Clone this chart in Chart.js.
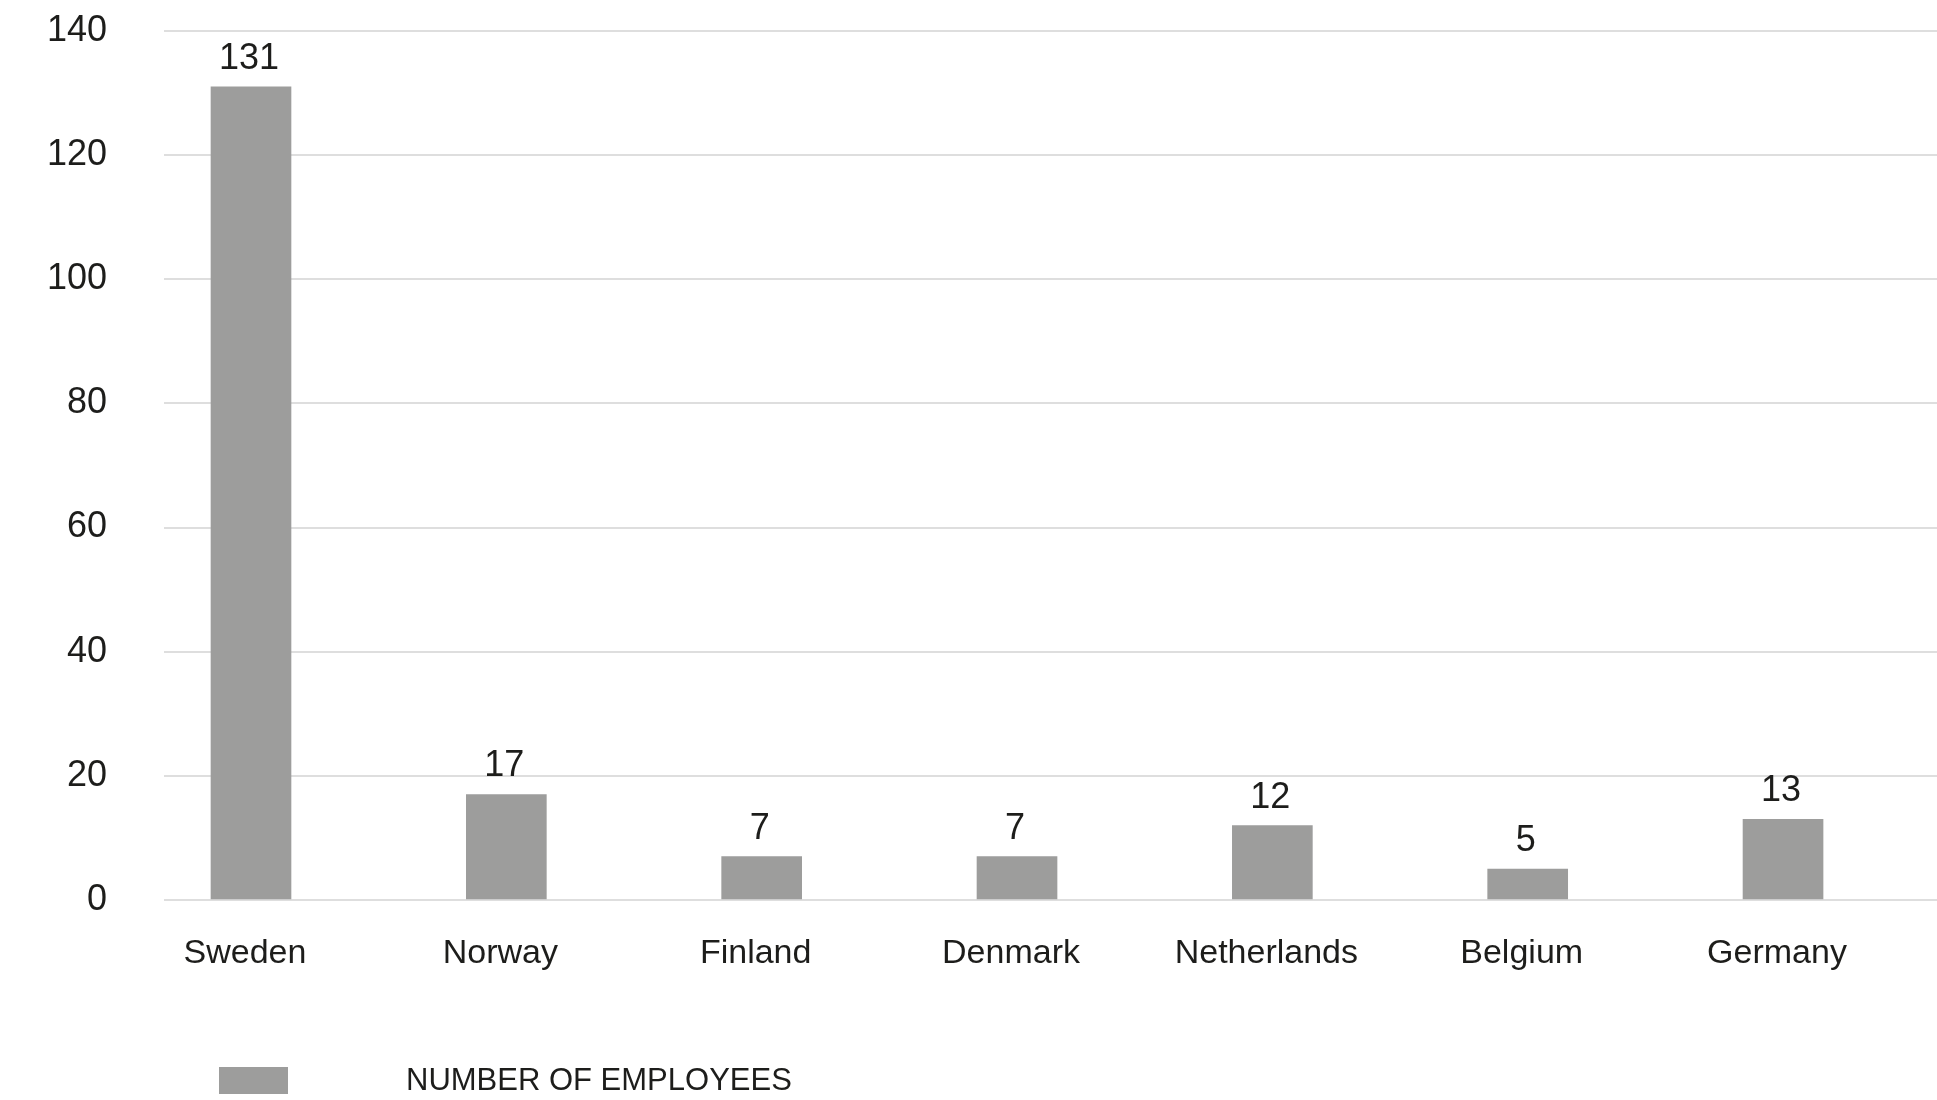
<!DOCTYPE html>
<html lang="en">
<head>
    <meta charset="utf-8" />
    <title>Number of employees per country</title>
    <script src="https://cdn.jsdelivr.net/npm/chart.js"></script>
    <style>
        body { margin: 0; background: #ffffff; }
        #wrap { width: 1937px; height: 1100px; position: relative; }
    </style>
</head>
<body>
    <div id="wrap">
        <canvas id="myChart"></canvas>
    </div>
    <script>
        // Data
        var countries = ["Sweden", "Norway", "Finland", "Denmark", "Netherlands", "Belgium", "Germany"];
        var employees = [131, 17, 7, 7, 12, 5, 13];
        var yTicks = [0, 20, 40, 60, 80, 100, 120, 140];
        var seriesLabel = "NUMBER OF EMPLOYEES";

        var barColor = '#9d9d9c';
        var textColor = '#1d1d1b';
        var fontFamily = '"Liberation Sans", Arial, Helvetica, sans-serif';

        // Value above each bar
        var valueLabels = {
            id: 'valueLabels',
            afterDatasetsDraw: function (chart) {
                var ctx = chart.ctx;
                var meta = chart.getDatasetMeta(0);
                ctx.save();
                ctx.font = '36px ' + fontFamily;
                ctx.fillStyle = textColor;
                ctx.textAlign = 'center';
                ctx.textBaseline = 'alphabetic';
                meta.data.forEach(function (bar, i) {
                    ctx.fillText(String(employees[i]), bar.x - 2, bar.y - 18);
                });
                ctx.restore();
            }
        };

        // Legend: grey box, then the series name further right
        var legendBox = {
            id: 'legendBox',
            afterDraw: function (chart) {
                var ctx = chart.ctx;
                var ds = chart.data.datasets[0];
                ctx.save();
                ctx.fillStyle = ds.backgroundColor;
                ctx.fillRect(219, 1067, 69, 27);
                ctx.font = '31px ' + fontFamily;
                ctx.fillStyle = textColor;
                ctx.textAlign = 'left';
                ctx.textBaseline = 'middle';
                ctx.fillText(ds.label, 406, 1081);
                ctx.restore();
            }
        };

        var ctx = document.getElementById('myChart').getContext('2d');
        new Chart(ctx, {
            type: 'bar',
            data: {
                datasets: [{
                    label: seriesLabel,
                    data: employees.map(function (v, i) { return { x: i, y: v }; }),
                    backgroundColor: barColor,
                    barThickness: 80
                }]
            },
            plugins: [valueLabels, legendBox],
            options: {
                responsive: true,
                maintainAspectRatio: false,
                animation: false,
                layout: { padding: { top: 31, right: 0, bottom: 125, left: 0 } },
                plugins: {
                    legend: { display: false },
                    tooltip: { enabled: false }
                },
                scales: {
                    x: {
                        type: 'linear',
                        offset: false,
                        min: -0.3407,
                        max: 6.603,
                        grid: { display: false, drawTicks: false },
                        border: { display: false },
                        afterBuildTicks: function (axis) {
                            axis.ticks = countries.map(function (c, i) { return { value: i }; });
                        },
                        afterFit: function (axis) { axis.height = 75; },
                        ticks: {
                            padding: 33,
                            labelOffset: -6,
                            maxRotation: 0,
                            autoSkip: false,
                            color: textColor,
                            font: { family: fontFamily, size: 34 },
                            callback: function (value) { return countries[value]; }
                        }
                    },
                    y: {
                        min: 0,
                        max: 140,
                        afterBuildTicks: function (axis) {
                            axis.ticks = yTicks.map(function (v) { return { value: v }; });
                        },
                        afterFit: function (axis) {
                            axis.width = 164;
                            axis.paddingTop = 0;
                            axis.paddingBottom = 0;
                        },
                        grid: { color: '#dedede', lineWidth: 2, drawTicks: false },
                        border: { display: false },
                        ticks: {
                            padding: 57,
                            color: textColor,
                            font: { family: fontFamily, size: 36 }
                        }
                    }
                }
            }
        });
    </script>
</body>
</html>
